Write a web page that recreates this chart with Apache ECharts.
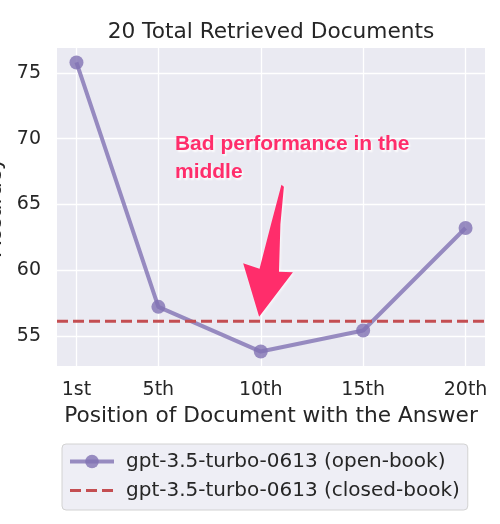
<!DOCTYPE html>
<html>
<head>
<meta charset="utf-8">
<script src="https://cdn.jsdelivr.net/npm/echarts@6/dist/echarts.min.js"></script>
<style>
html,body{margin:0;padding:0;background:#fff;}
#c{width:500px;height:524px;}
</style>
</head>
<body>
<div id="c"></div>
<script>
// ---- data ----
const titleText = '20 Total Retrieved Documents';
const positions = [1, 5, 10, 15, 20];
const tickLabels = ['1st', '5th', '10th', '15th', '20th'];
const openBook = [75.8, 57.2, 53.8, 55.4, 63.2];
const closedBook = 56.1;
const yTicks = [55, 60, 65, 70, 75];
const seriesNames = ['gpt-3.5-turbo-0613 (open-book)', 'gpt-3.5-turbo-0613 (closed-book)'];
const xName = 'Position of Document with the Answer';
const yName = 'Accuracy';
const annotationText = 'Bad performance in the\nmiddle';
// annotation positions in data coordinates
const annotationAnchor = [5.81, 70.62];
const arrowShape = [[11.01, 66.50], [11.13, 66.35], [10.96, 63.49], [10.89, 59.87], [11.57, 59.83],
  [9.92, 56.45], [9.14, 60.51], [9.94, 60.10], [10.50, 63.49]];

const xMin = 0.05, xMax = 20.95, yMin = 52.7, yMax = 76.9;

const FONT = 'DejaVu Sans';
const TXT = '#262626';

const chart = echarts.init(document.getElementById('c'), null, {renderer: 'canvas'});
const labelMap = {};
positions.forEach((p, i) => labelMap[p] = tickLabels[i]);

chart.setOption({
  animation: false,
  backgroundColor: '#ffffff',
  textStyle: {fontFamily: FONT},
  title: {
    text: titleText,
    left: 271, top: 21, textAlign: 'center', padding: 0,
    textStyle: {fontFamily: FONT, fontSize: 21.7, fontWeight: 'normal', color: TXT}
  },
  grid: {
    left: 57, right: 15, top: 48, bottom: 158,
    outerBoundsMode: 'none', containLabel: false,
    show: true, backgroundColor: '#eaeaf2', borderWidth: 0
  },
  xAxis: {
    type: 'value', min: xMin, max: xMax,
    name: xName, nameLocation: 'middle', nameGap: 38,
    nameTextStyle: {fontFamily: FONT, fontSize: 21.7, color: TXT},
    axisLine: {show: false},
    axisTick: {show: false, customValues: positions},
    axisLabel: {customValues: positions, formatter: v => labelMap[v] || '', fontFamily: FONT, fontSize: 19, color: TXT, margin: 15},
    splitLine: {show: true, lineStyle: {color: '#ffffff', width: 1.3}}
  },
  yAxis: {
    type: 'value', min: yMin, max: yMax,
    name: yName, nameLocation: 'middle', nameGap: 45, nameRotate: 90,
    nameTextStyle: {fontFamily: FONT, fontSize: 21.7, color: TXT},
    axisLine: {show: false},
    axisTick: {show: false, customValues: yTicks},
    axisLabel: {customValues: yTicks, fontFamily: FONT, fontSize: 19, color: TXT, margin: 16},
    splitLine: {show: true, lineStyle: {color: '#ffffff', width: 1.3}}
  },
  legend: {
    orient: 'vertical', left: 62, top: 444,
    backgroundColor: '#eeeef5', borderColor: '#d2d2d2', borderWidth: 1, borderRadius: 4,
    padding: [6, 8, 8, 6],
    itemWidth: 44, itemHeight: 17, itemGap: 6,
    textStyle: {fontFamily: FONT, fontSize: 20, color: TXT, lineHeight: 23, padding: [0, 0, 0, 7]},
    data: [
      {name: seriesNames[0], lineStyle: {width: 4}},
      {name: seriesNames[1], itemStyle: {opacity: 0}, lineStyle: {width: 3}}
    ]
  },
  series: [
    {
      name: seriesNames[0], type: 'line',
      data: positions.map((p, i) => [p, openBook[i]]),
      symbol: 'circle', symbolSize: 14,
      itemStyle: {color: 'rgba(129,114,179,0.8)'},
      lineStyle: {color: 'rgba(129,114,179,0.8)', width: 4},
      z: 2
    },
    {
      name: seriesNames[1], type: 'line',
      data: [[xMin, closedBook], [xMax, closedBook]],
      symbol: 'none',
      itemStyle: {color: '#c44e52'},
      lineStyle: {color: '#c44e52', width: 3, type: [11, 5]},
      z: 3
    }
  ]
});

const toPx = p => chart.convertToPixel({gridIndex: 0}, p);
const anchorPx = toPx(annotationAnchor);
chart.setOption({
  graphic: [
    {
      type: 'polygon', z: 10,
      shape: {points: arrowShape.map(toPx)},
      style: {fill: '#ff2d6b', shadowColor: 'rgba(255,255,255,0.8)', shadowBlur: 3, shadowOffsetX: 1, shadowOffsetY: 1}
    },
    {
      type: 'text', z: 11, x: anchorPx[0], y: anchorPx[1],
      style: {
        text: annotationText,
        font: 'bold 21px "Liberation Sans"',
        lineHeight: 28,
        fill: '#ff2d6b',
        textShadowColor: 'rgba(255,255,255,0.95)', textShadowBlur: 2,
        textShadowOffsetX: 1.5, textShadowOffsetY: 1.5
      }
    }
  ]
});
</script>
</body>
</html>
